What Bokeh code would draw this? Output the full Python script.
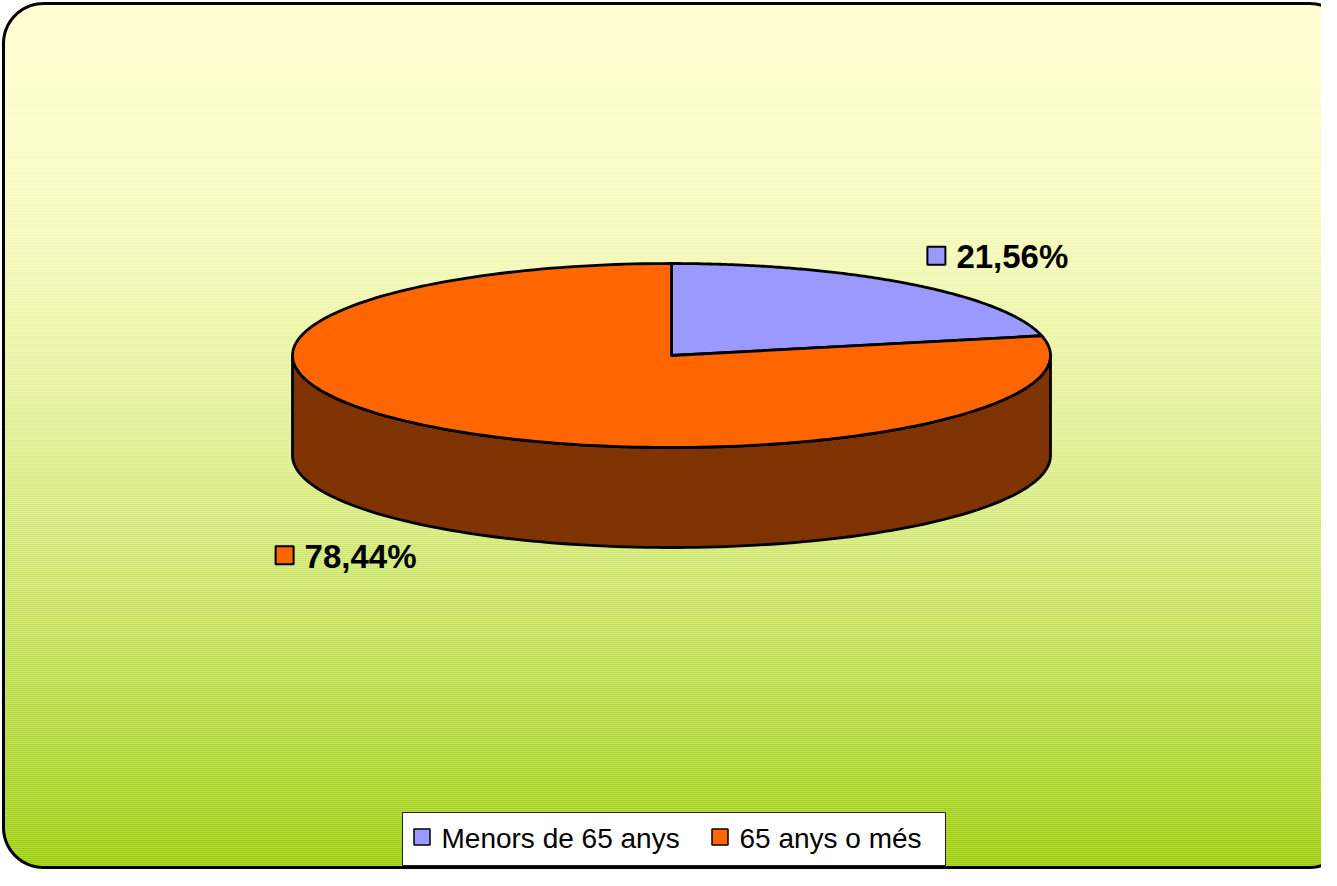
import numpy as np
from bokeh.plotting import figure
from bokeh.models import Range1d
from bokeh.embed import file_html
from bokeh.resources import INLINE
from bokeh.core.properties import value

# ---- data ----
categories = ["Menors de 65 anys", "65 anys o més"]
values = [21.56, 78.44]
pct_labels = ["21,56%", "78,44%"]
top_colors = ["#9999FF", "#FF6600"]
side_colors = ["#4C4C80", "#7F3300"]

W, H = 1321, 870
p = figure(width=W, height=H, x_range=Range1d(0, W), y_range=Range1d(H, 0),
           output_backend="svg", toolbar_location=None, min_border=0)
p.axis.visible = False
p.grid.visible = False
p.outline_line_color = None
p.background_fill_color = "white"
p.border_fill_color = "white"

# ---- rounded frame with vertical gradient ----
fx0, fy0, fx1, fy1, rad = 3, 3, 1349, 867, 40


def x_extent(y):
    dy = 0.0
    if y < fy0 + rad:
        dy = fy0 + rad - y
    elif y > fy1 - rad:
        dy = y - (fy1 - rad)
    off = rad - np.sqrt(max(rad ** 2 - dy ** 2, 0.0))
    return fx0 + off, fx1 - off


c_top = np.array([255, 255, 204])
c_bot = np.array([153, 204, 0])
step = 2
ls, rs, ts, bs, cols = [], [], [], [], []
for y in range(fy0, fy1, step):
    yc = y + step / 2
    xl, xr = x_extent(yc)
    t = (yc - fy0) / (fy1 - fy0)
    f = t ** 1.7
    c = (c_top + (c_bot - c_top) * f).astype(int)
    ls.append(xl); rs.append(xr); ts.append(y); bs.append(y + step)
    cols.append("#%02x%02x%02x" % tuple(c))
p.quad(left=ls, right=rs, top=ts, bottom=bs, fill_color=cols, line_color=None)

# frame outline path
fr_x, fr_y = [], []
corners = [(fx0 + rad, fy0 + rad, 180, 270), (fx1 - rad, fy0 + rad, 270, 360),
           (fx1 - rad, fy1 - rad, 0, 90), (fx0 + rad, fy1 - rad, 90, 180)]
for ccx, ccy, a0, a1 in corners:
    a = np.radians(np.linspace(a0, a1, 20))
    fr_x += list(ccx + rad * np.cos(a))
    fr_y += list(ccy + rad * np.sin(a))
p.patch(fr_x, fr_y, fill_color=None, line_color="black", line_width=3)

# ---- 3D pie ----
cx, cy, rx, ry, depth = 671, 355, 379, 92, 100


def pt(theta_deg, dz=0.0):
    th = np.radians(theta_deg)
    return cx + rx * np.sin(th), cy - ry * np.cos(th) + dz


total = sum(values)
starts, ends = [], []
acc = 0.0
for v in values:
    starts.append(acc * 360 / total)
    acc += v
    ends.append(acc * 360 / total)

# side walls (visible front half: 90..270)
for s, e, sc in zip(starts, ends, side_colors):
    a0, a1 = max(s, 90), min(e, 270)
    if a1 <= a0:
        continue
    ang = np.linspace(a0, a1, 120)
    tx, ty = pt(ang)
    bx, by = pt(ang[::-1], depth)
    p.patch(list(tx) + list(bx), list(ty) + list(by), fill_color=sc,
            line_color="black", line_width=2.8, line_join="round")

# top faces
for s, e, tc in zip(starts, ends, top_colors):
    ang = np.linspace(s, e, 200)
    ax, ay = pt(ang)
    p.patch([cx] + list(ax), [cy] + list(ay), fill_color=tc,
            line_color="black", line_width=2.8, line_join="round")

# data labels
for s, e, lab, tc in zip(starts, ends, pct_labels, top_colors):
    m = np.radians((s + e) / 2)
    lx = cx + 520 * np.sin(m)
    ly = cy - 128 * np.cos(m) + (depth if np.cos(m) < 0 else 0)
    p.rect(x=[lx - 61], y=[ly], width=18, height=18, fill_color=tc,
           line_color="black", line_width=2)
    p.text(x=[lx - 41], y=[ly + 1], text=[lab], text_font=value("Liberation Sans"),
           text_font_style="bold", text_font_size="33px", text_color="black",
           text_align="left", text_baseline="middle")

# ---- legend ----
leg_box = (402, 812, 945, 865)
p.quad(left=[leg_box[0]], right=[leg_box[2]], top=[leg_box[1]], bottom=[leg_box[3]],
       fill_color="white", line_color="#222222", line_width=1)
leg_marker_x = [421.5, 719.5]
leg_y = 836.5
for mx, cat, tc in zip(leg_marker_x, categories, top_colors):
    p.rect(x=[mx], y=[leg_y], width=16, height=16, fill_color=tc,
           line_color="black", line_width=1.5)
    p.text(x=[mx + 19.5], y=[leg_y + 1], text=[cat], text_font=value("Liberation Sans"),
           text_font_size="28px", text_color="black", text_align="left",
           text_baseline="middle")

open("out.html", "w").write(file_html(p, INLINE))
